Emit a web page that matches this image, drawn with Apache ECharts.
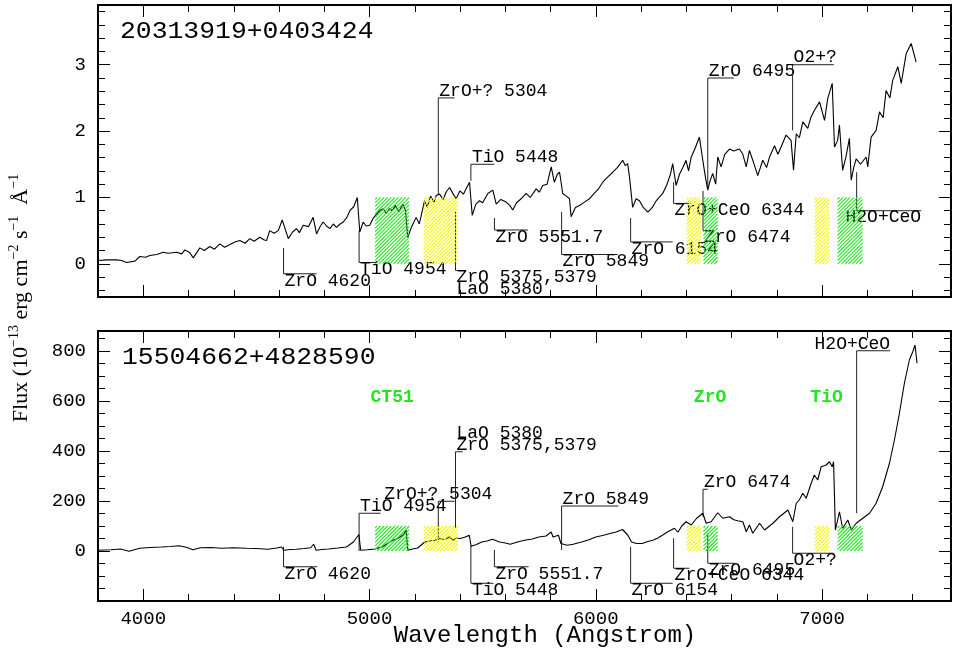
<!DOCTYPE html>
<html>
<head>
<meta charset="utf-8">
<script src="https://cdn.jsdelivr.net/npm/echarts@6/dist/echarts.min.js"></script>
<style>
html,body{margin:0;padding:0;background:#fff}
#chart{width:953px;height:649px}
</style>
</head>
<body>
<div id="chart"></div>
<script>
// ---- axis ranges and tick values ----
const wlRange = [3800, 7570];
const topFluxRange = [-0.5, 3.9];
const bottomFluxRange = [-200, 880];
const xMajorTicks = [4000, 5000, 6000, 7000];
const topMajorTicks = [0, 1, 2, 3];
const bottomMajorTicks = [0, 200, 400, 600, 800];

const topName = '20313919+0403424';
const bottomName = '15504662+4828590';
const xTitle = 'Wavelength (Angstrom)';

// ---- spectra: [wavelength (Angstrom), flux] ----
const topSpectrum = [
  [3800,0.05],[3840,0.06],[3882,0.06],[3905,0.05],[3926,0.02],[3963,0.04],[3985,0.11],[4010,0.10],
  [4029,0.125],[4060,0.14],[4088,0.175],[4110,0.16],[4147,0.175],[4170,0.15],[4184,0.21],[4205,0.17],
  [4221,0.09],[4250,0.24],[4270,0.20],[4294,0.26],[4315,0.22],[4338,0.30],[4360,0.25],[4383,0.29],
  [4405,0.33],[4427,0.35],[4450,0.31],[4471,0.38],[4490,0.34],[4515,0.40],[4535,0.36],[4545,0.35],
  [4559,0.50],[4578,0.46],[4597,0.50],[4614,0.66],[4625,0.55],[4641,0.38],[4660,0.48],[4677,0.53],
  [4690,0.47],[4707,0.58],[4730,0.56],[4751,0.70],[4766,0.45],[4780,0.55],[4795,0.63],[4810,0.57],
  [4825,0.53],[4840,0.60],[4854,0.55],[4870,0.60],[4884,0.63],[4900,0.70],[4913,0.80],[4930,0.86],
  [4946,1.00],[4957,0.48],[4972,0.63],[4985,0.57],[5001,0.58],[5015,0.68],[5031,0.75],[5045,0.80],
  [5060,0.83],[5075,0.76],[5088,0.83],[5100,0.80],[5115,0.88],[5130,0.78],[5147,0.90],[5159,0.80],
  [5169,0.40],[5185,0.55],[5206,0.70],[5220,0.60],[5243,0.95],[5255,0.85],[5270,1.02],[5285,0.93],
  [5295,1.03],[5310,1.05],[5325,0.97],[5340,1.09],[5354,1.15],[5370,1.05],[5383,0.98],[5400,1.10],
  [5415,1.05],[5427,1.13],[5442,1.23],[5454,0.73],[5470,0.90],[5486,0.95],[5500,0.92],[5523,1.06],
  [5545,1.11],[5560,0.90],[5580,0.97],[5604,0.93],[5620,0.88],[5633,0.81],[5650,0.92],[5670,0.98],
  [5692,1.06],[5710,1.00],[5737,1.13],[5750,1.08],[5766,1.18],[5785,1.20],[5803,1.46],[5817,1.23],
  [5830,1.35],[5840,1.38],[5854,1.06],[5870,1.02],[5884,0.98],[5891,0.71],[5910,0.85],[5928,0.88],
  [5950,0.93],[5972,0.98],[5990,1.05],[6010,1.12],[6031,1.23],[6050,1.30],[6075,1.38],[6095,1.45],
  [6119,1.56],[6130,1.48],[6141,1.51],[6149,1.31],[6163,0.85],[6178,0.98],[6193,0.95],[6210,0.85],
  [6230,0.78],[6250,0.85],[6267,0.95],[6285,1.02],[6296,1.06],[6315,1.20],[6330,1.35],[6340,1.51],
  [6355,1.18],[6370,1.35],[6385,1.45],[6399,1.56],[6410,1.40],[6422,1.61],[6440,1.75],[6458,1.91],
  [6473,1.56],[6485,1.30],[6495,1.11],[6505,1.25],[6517,1.36],[6530,1.20],[6539,1.61],[6554,1.46],
  [6570,1.65],[6591,1.73],[6610,1.70],[6635,1.73],[6650,1.65],[6665,1.46],[6679,1.71],[6695,1.55],
  [6716,1.33],[6738,1.56],[6755,1.45],[6768,1.61],[6790,1.78],[6805,1.65],[6819,1.76],[6841,1.94],
  [6863,1.86],[6874,1.41],[6886,1.96],[6900,1.90],[6915,2.14],[6937,2.04],[6950,2.20],[6966,2.31],
  [6989,2.44],[7011,2.16],[7025,2.49],[7045,2.72],[7055,1.76],[7069,1.86],[7077,2.09],[7091,1.41],
  [7105,1.60],[7121,1.89],[7129,1.26],[7140,1.45],[7151,1.58],[7170,1.50],[7195,1.61],[7202,1.46],
  [7217,1.91],[7239,2.01],[7254,2.29],[7270,2.20],[7283,2.61],[7300,2.50],[7312,2.76],[7335,2.97],
  [7350,2.72],[7372,3.17],[7394,3.32],[7408,3.14],[7416,3.04]
];

const bottomSpectrum = [
  [3800,3],[3858,5],[3900,8],[3937,-1],[3984,11],[4030,14],[4079,16],[4120,18],[4158,21],[4190,15],
  [4220,5],[4252,13],[4300,14],[4346,11],[4400,13],[4457,11],[4500,10],[4551,7],[4590,12],[4611,16],
  [4622,3],[4650,6],[4677,7],[4710,10],[4740,13],[4753,27],[4764,3],[4790,6],[4819,8],[4860,12],
  [4898,16],[4929,36],[4953,66],[4961,3],[4990,5],[5024,8],[5055,16],[5080,30],[5102,43],[5120,48],
  [5134,56],[5150,65],[5162,83],[5169,3],[5190,8],[5213,12],[5244,36],[5265,40],[5291,43],[5307,50],
  [5331,46],[5354,56],[5370,43],[5385,52],[5402,50],[5420,55],[5441,63],[5449,19],[5470,25],[5496,36],
  [5520,40],[5543,47],[5575,36],[5600,32],[5622,27],[5650,35],[5685,43],[5720,48],[5748,56],[5780,60],
  [5803,76],[5811,56],[5835,63],[5846,30],[5874,23],[5900,27],[5937,36],[5970,45],[6000,56],[6030,62],
  [6063,70],[6090,76],[6118,86],[6142,63],[6158,36],[6180,30],[6205,30],[6230,38],[6252,43],[6275,52],
  [6296,64],[6320,78],[6348,91],[6363,75],[6380,100],[6399,117],[6422,104],[6445,130],[6473,151],[6488,111],
  [6510,117],[6539,153],[6561,131],[6591,137],[6610,125],[6628,121],[6650,117],[6665,77],[6679,104],[6694,71],
  [6724,111],[6746,84],[6783,111],[6812,137],[6830,150],[6849,164],[6871,117],[6886,191],[6900,205],[6915,231],
  [6930,211],[6952,271],[6966,304],[6981,284],[6996,337],[7018,344],[7033,357],[7045,337],[7051,357],[7059,84],
  [7077,157],[7091,91],[7114,124],[7129,84],[7151,111],[7180,131],[7210,151],[7239,191],[7268,257],[7298,351],
  [7320,444],[7342,551],[7364,671],[7386,764],[7401,797],[7411,824],[7420,751]
];

// ---- hatched band windows: [start, end, colour kind] ----
const bands = [
  [5025, 5175, 'green'], [5240, 5390, 'yellow'],
  [6402, 6465, 'yellow'], [6476, 6539, 'green'],
  [6968, 7032, 'yellow'], [7069, 7179, 'green']
];
const topBandTop = 1;
const bottomBandTop = 100;
const bandNames = ['CT51', 'ZrO', 'TiO'];
const bandNameWl = [5100, 6505, 7020];
const bandNameFlux = 616;

// ---- line identifications ----
// [wavelength, flux where the marker starts, flux of the label bar, wavelength where the bar ends, text, text alignment]
const topLines = [
  [4620, 0.24, -0.15, 4766, 'ZrO 4620', 'left'],
  [4954, 0.50, 0.02, 5030, 'TiO 4954', 'left'],
  [5304, 1.05, 2.50, 5376, 'ZrO+? 5304', 'left'],
  [5380, 0.78, -0.10, 5400, 'ZrO 5375,5379\nLaO 5380', 'left'],
  [5448, 1.25, 1.50, 5552, 'TiO 5448', 'left'],
  [5552, 0.69, 0.51, 5700, 'ZrO 5551.7', 'left'],
  [5849, 0.78, 0.14, 6097, 'ZrO 5849', 'left'],
  [6154, 0.69, 0.33, 6340, 'ZrO 6154', 'left'],
  [6344, 1.23, 0.91, 6420, 'ZrO+CeO 6344', 'left'],
  [6474, 1.10, 0.50, 6500, 'ZrO 6474', 'left'],
  [6495, 1.16, 2.80, 6610, 'ZrO 6495', 'left'],
  [6870, 2.01, 3.00, 7052, 'O2+?', 'left'],
  [7153, 1.38, 0.80, 7438, 'H2O+CeO', 'right']
];
const bottomLines = [
  [4620, 17, -63, 4769, 'ZrO 4620', 'left'],
  [4954, 0, 151, 5049, 'TiO 4954', 'left'],
  [5304, 44, 199, 5376, 'ZrO+? 5304', 'center'],
  [5380, 91, 397, 5412, 'LaO 5380\nZrO 5375,5379', 'left'],
  [5448, 20, -129, 5548, 'TiO 5448', 'left'],
  [5552, 4, -63, 5703, 'ZrO 5551.7', 'left'],
  [5849, 4, 180, 6100, 'ZrO 5849', 'left'],
  [6154, 17, -129, 6340, 'ZrO 6154', 'left'],
  [6344, 51, -69, 6414, 'ZrO+CeO 6344', 'left'],
  [6474, 137, 247, 6495, 'ZrO 6474', 'left'],
  [6495, 71, -49, 6613, 'ZrO 6495', 'left'],
  [6870, 97, -9, 7052, 'O2+?', 'left'],
  [7153, 151, 801, 7301, 'H2O+CeO', 'right']
];

// ---- styling ----
const MONO = '"Liberation Mono", "DejaVu Sans Mono", monospace';
const LABEL_FONT = '18px ' + MONO;
const bandColors = { green: '#22e622', yellow: '#f8f800' };
const HATCH_STEP = 3.6;

function rangeTicks(lo, hi, step) {
  const out = [];
  for (let v = lo; v <= hi + 1e-9; v += step) out.push(+v.toFixed(6));
  return out;
}
const xMinorTicks = rangeTicks(3800, 7400, 200);
const topMinorTicks = rangeTicks(-0.4, 3.8, 0.2);
const bottomMinorTicks = rangeTicks(-150, 850, 50);

const grids = [
  { left: 98, top: 5, width: 853, height: 292 },
  { left: 98, top: 331, width: 853, height: 270 }
];

const tickLine = { color: '#000', width: 1 };
const labelStyle = { color: '#000', fontFamily: MONO, fontSize: 19, formatter: v => String(v) };

const xAxes = [], yAxes = [];
function addX(gi, pos, ticks, len, labels) {
  xAxes.push({
    gridIndex: gi, type: 'value', position: pos, min: wlRange[0], max: wlRange[1],
    axisLine: { show: false, onZero: false }, splitLine: { show: false },
    axisTick: { show: true, inside: true, length: len, customValues: ticks, lineStyle: tickLine },
    axisLabel: labels ? Object.assign({ show: true, customValues: labels, margin: 8 }, labelStyle) : { show: false }
  });
}
function addY(gi, pos, range, ticks, len, labels) {
  yAxes.push({
    gridIndex: gi, type: 'value', position: pos, min: range[0], max: range[1],
    axisLine: { show: false, onZero: false }, splitLine: { show: false },
    axisTick: { show: true, inside: true, length: len, customValues: ticks, lineStyle: tickLine },
    axisLabel: labels ? Object.assign({ show: true, customValues: labels, margin: 12 }, labelStyle) : { show: false }
  });
}
// grid 0 axes (indices 0..3)
addX(0, 'bottom', xMinorTicks, 7, null);
addX(0, 'bottom', xMajorTicks, 12, null);
addX(0, 'top', xMinorTicks, 7, null);
addX(0, 'top', xMajorTicks, 12, null);
addY(0, 'left', topFluxRange, topMinorTicks, 7, null);
addY(0, 'left', topFluxRange, topMajorTicks, 12, topMajorTicks);
addY(0, 'right', topFluxRange, topMinorTicks, 7, null);
addY(0, 'right', topFluxRange, topMajorTicks, 12, null);
// grid 1 axes (indices 4..7)
addX(1, 'bottom', xMinorTicks, 7, null);
addX(1, 'bottom', xMajorTicks, 12, xMajorTicks);
addX(1, 'top', xMinorTicks, 7, null);
addX(1, 'top', xMajorTicks, 12, null);
addY(1, 'left', bottomFluxRange, bottomMinorTicks, 7, null);
addY(1, 'left', bottomFluxRange, bottomMajorTicks, 12, bottomMajorTicks);
addY(1, 'right', bottomFluxRange, bottomMinorTicks, 7, null);
addY(1, 'right', bottomFluxRange, bottomMajorTicks, 12, null);

// diagonal hatching inside the pixel box [x0,x1] x [y0,y1]
function hatchLines(x0, y0, x1, y1, color) {
  const out = [];
  for (let c = x0 + y0 + HATCH_STEP / 2; c < x1 + y1; c += HATCH_STEP) {
    const xa = Math.max(x0, c - y1);
    const xb = Math.min(x1, c - y0);
    if (xb <= xa) continue;
    out.push({ type: 'line', shape: { x1: xa, y1: c - xa, x2: xb, y2: c - xb },
      style: { stroke: color, lineWidth: 1.1 } });
  }
  return out;
}

function bandSeries(gi, topFlux) {
  return {
    type: 'custom', xAxisIndex: gi * 4, yAxisIndex: gi * 4, silent: true, z: 5,
    data: bands.map(b => [b[0], b[1], 0, topFlux]),
    renderItem: function (params, api) {
      const b = bands[params.dataIndex];
      const a = api.coord([api.value(0), api.value(3)]);
      const z = api.coord([api.value(1), api.value(2)]);
      return { type: 'group', children: hatchLines(a[0], a[1], z[0], z[1], bandColors[b[2]]) };
    }
  };
}

function lineIdSeries(gi, list) {
  return {
    type: 'custom', xAxisIndex: gi * 4, yAxisIndex: gi * 4, silent: true, z: 3,
    data: list.map(d => [d[0], d[1], d[2], d[3]]),
    renderItem: function (params, api) {
      const d = list[params.dataIndex];
      const p0 = api.coord([api.value(0), api.value(1)]);
      const p1 = api.coord([api.value(0), api.value(2)]);
      const p2 = api.coord([api.value(3), api.value(2)]);
      const above = d[2] > d[1];
      const align = d[5];
      let tx = p1[0] + 1;
      if (align === 'right') tx = p2[0];
      else if (align === 'center') tx = p1[0];
      const ty = above ? p1[1] - 1 : p1[1] + 1;
      return {
        type: 'group',
        children: [
          { type: 'polyline', shape: { points: [p0, p1, p2] }, style: { stroke: '#222', lineWidth: 1, fill: null } },
          { type: 'text', x: tx, y: ty,
            style: { text: d[4], font: LABEL_FONT, fill: '#000', align: align, verticalAlign: above ? 'bottom' : 'top', lineHeight: 12 } }
        ]
      };
    }
  };
}

const option = {
  animation: false,
  backgroundColor: '#fff',
  grid: grids.map(g => Object.assign({ show: true, borderColor: '#000', borderWidth: 2, backgroundColor: 'transparent', containLabel: false }, g)),
  xAxis: xAxes,
  yAxis: yAxes,
  series: [
    { type: 'line', xAxisIndex: 0, yAxisIndex: 0, data: topSpectrum, showSymbol: false, symbol: 'none',
      lineStyle: { color: '#000', width: 1.1 }, z: 4, silent: true },
    { type: 'line', xAxisIndex: 4, yAxisIndex: 4, data: bottomSpectrum, showSymbol: false, symbol: 'none',
      lineStyle: { color: '#000', width: 1.1 }, z: 4, silent: true },
    lineIdSeries(0, topLines),
    lineIdSeries(1, bottomLines),
    bandSeries(0, topBandTop),
    bandSeries(1, bottomBandTop),
    {
      type: 'custom', xAxisIndex: 4, yAxisIndex: 4, silent: true, z: 6,
      data: bandNameWl.map(w => [w, bandNameFlux]),
      renderItem: function (params, api) {
        const p = api.coord([api.value(0), api.value(1)]);
        return { type: 'text', x: p[0], y: p[1],
          style: { text: bandNames[params.dataIndex], font: 'bold 18px ' + MONO, fill: bandColors.green, align: 'center', verticalAlign: 'middle' } };
      }
    }
  ],
  graphic: [
    { type: 'text', x: 120, y: 20, scaleX: 1.1, style: { text: topName, font: '24px ' + MONO, fill: '#000' } },
    { type: 'text', x: 122, y: 346, scaleX: 1.1, style: { text: bottomName, font: '24px ' + MONO, fill: '#000' } },
    { type: 'text', x: 545, y: 636, style: { text: xTitle, font: '24px ' + MONO, fill: '#000', align: 'center', verticalAlign: 'middle' } },
    { type: 'text', x: 21, y: 298, rotation: Math.PI / 2,
      style: {
        text: 'Flux (10{s|\u221213} erg cm{s|\u22122} s{s|\u22121}  \u00c5{s|\u22121}',
        font: '22px "Liberation Serif", serif', fill: '#000', align: 'center', verticalAlign: 'middle', lineHeight: 28,
        rich: { s: { fontSize: 14, fontFamily: '"Liberation Serif", serif', verticalAlign: 'top', lineHeight: 15 } }
      } }
  ]
};

const chart = echarts.init(document.getElementById('chart'), null, { renderer: 'canvas' });
chart.setOption(option);
</script>
</body>
</html>
